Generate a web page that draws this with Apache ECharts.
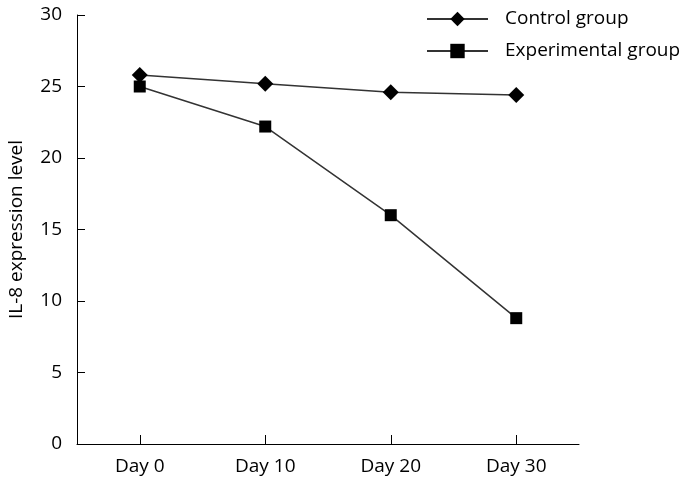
<!DOCTYPE html>
<html>
<head>
<meta charset="utf-8">
<script src="https://cdn.jsdelivr.net/npm/echarts@6/dist/echarts.min.js"></script>
<style>
html,body{margin:0;padding:0;background:#fff;}
#chart{width:695px;height:484px;}
</style>
</head>
<body>
<div id="chart"></div>
<script>
var categories = ['Day 0', 'Day 10', 'Day 20', 'Day 30'];
var controlGroup = [25.8, 25.2, 24.6, 24.4];
var experimentalGroup = [25.0, 22.2, 16.0, 8.8];
var seriesNames = ['Control group', 'Experimental group'];
var yAxisTitle = 'IL-8 expression level';

var FONT = 'Open Sans';
var chart = echarts.init(document.getElementById('chart'), null, {renderer: 'canvas'});
chart.setOption({
  animation: false,
  backgroundColor: '#ffffff',
  grid: {left: 77, right: 116, top: 15, bottom: 40, containLabel: false, outerBoundsMode: 'none'},
  legend: {
    orient: 'vertical',
    left: 421,
    top: 4,
    itemWidth: 61,
    itemHeight: 18,
    itemGap: 12,
    data: seriesNames,
    textStyle: {fontFamily: FONT, fontSize: 19, color: '#000', lineHeight: 20, padding: [0, 0, 0, 12]}
  },
  xAxis: {
    type: 'category',
    data: categories,
    boundaryGap: true,
    axisLine: {lineStyle: {color: '#000', width: 1}},
    axisTick: {show: true, inside: true, alignWithLabel: true, length: 9, lineStyle: {color: '#000', width: 1}},
    axisLabel: {fontFamily: FONT, fontSize: 19, color: '#000', margin: 13},
    splitLine: {show: false}
  },
  yAxis: {
    type: 'value',
    min: 0,
    max: 30,
    interval: 5,
    name: yAxisTitle,
    nameLocation: 'middle',
    nameGap: 51,
    nameTextStyle: {fontFamily: FONT, fontSize: 19, color: '#000'},
    axisLine: {show: true, lineStyle: {color: '#000', width: 1}},
    axisTick: {show: true, inside: true, length: 8, lineStyle: {color: '#000', width: 1}},
    axisLabel: {fontFamily: FONT, fontSize: 19, color: '#000', margin: 15},
    splitLine: {show: false}
  },
  series: [
    {
      name: seriesNames[0],
      type: 'line',
      data: controlGroup,
      symbol: 'diamond',
      symbolSize: 16,
      lineStyle: {color: '#333', width: 1.5},
      itemStyle: {color: '#000'}
    },
    {
      name: seriesNames[1],
      type: 'line',
      data: experimentalGroup,
      symbol: 'rect',
      symbolSize: 12,
      lineStyle: {color: '#333', width: 1.5},
      itemStyle: {color: '#000'}
    }
  ]
});
</script>
</body>
</html>
